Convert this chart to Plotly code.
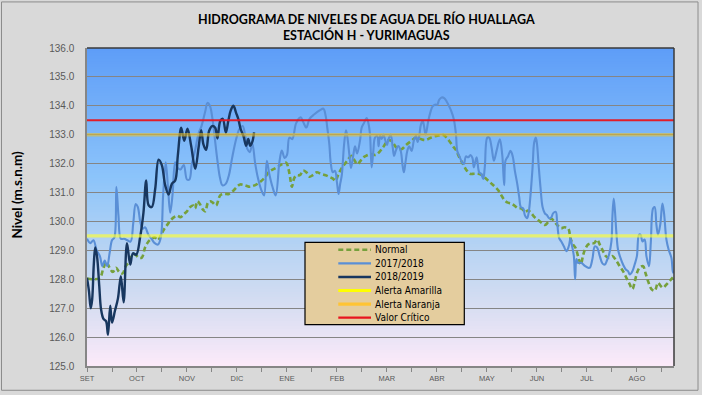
import plotly.graph_objects as go

# ---------------- data ----------------
month_labels = ["SET", "OCT", "NOV", "DIC", "ENE", "FEB", "MAR", "ABR", "MAY", "JUN", "JUL", "AGO"]
days_per_label = 31
n_days = 365

normal_day = [0, 4, 8, 10, 12, 14, 16, 18, 20, 22, 24, 26, 28, 30, 32, 34, 36, 38, 40, 42, 44, 46, 48, 50,
              52, 54, 56, 58, 60, 62, 64, 66, 67, 68.5, 70, 72, 73.3, 75, 76.4, 78, 80, 82.6, 85, 88, 90.5,
              93, 95, 98, 101, 104, 107, 110, 113, 117, 120, 123.5, 125, 126, 127, 128.5, 130, 132, 134,
              136, 138, 140, 142.5, 145, 148, 150, 152.5, 154, 156, 158, 160, 162, 164, 166, 167.5, 169,
              171, 173, 176, 179, 182, 184, 186.5, 188.5, 190, 192, 195, 198, 201, 204, 207, 210, 214,
              218, 221, 223, 225, 227, 229, 231, 233, 235, 237.5, 240, 242.6, 245, 247, 249, 251, 253,
              255, 257, 259, 261, 263, 265, 267.4, 269.5, 271.5, 273.5, 275.6, 277.5, 279.8, 282, 284,
              286, 288, 290, 292, 294, 296, 298.4, 299.8, 301.4, 303, 304.5, 306.2, 307.5, 308.7, 310.7,
              312.8, 314.5, 316.3, 318, 320, 321.7, 323.7, 326, 328.3, 330.4, 332.4, 334.5, 336.5, 338.2,
              339.6, 341.1, 342.7, 344.8, 346.4, 347.9, 350, 352, 354.1, 355.6, 357.2, 359.3, 361.3, 364]
normal_level = [128.03, 128.0, 128.05, 128.35, 128.6, 128.4, 128.25, 128.4, 128.25, 128.2, 128.45, 128.6,
                128.85, 128.85, 128.75, 128.75, 129.1, 129.3, 129.4, 129.45, 129.35, 129.55, 129.75, 129.9,
                130.05, 130.15, 130.2, 130.15, 130.25, 130.35, 130.5, 130.55, 130.45, 130.7, 130.6, 130.4,
                130.35, 130.65, 130.7, 130.65, 130.55, 130.9, 130.95, 130.95, 131.05, 131.2, 131.28, 131.25,
                131.2, 131.25, 131.35, 131.5, 131.72, 131.85, 131.95, 132.03, 131.8, 131.5, 131.2, 131.5,
                131.6, 131.6, 131.76, 131.7, 131.55, 131.6, 131.7, 131.65, 131.6, 131.55, 131.48, 131.4,
                131.65, 131.85, 132.0, 132.15, 132.27, 132.1, 131.98, 132.05, 132.2, 132.27, 132.33, 132.3,
                132.45, 132.6, 132.8, 132.8, 132.7, 132.55, 132.5, 132.65, 132.78, 132.9, 132.85, 132.82,
                132.92, 132.97, 132.99, 132.9, 132.76, 132.6, 132.45, 132.2, 132.0, 131.8, 131.65, 131.65,
                131.65, 131.6, 131.5, 131.4, 131.3, 131.2, 131.08, 130.9, 130.73, 130.65, 130.62, 130.55,
                130.45, 130.45, 130.33, 130.38, 130.28, 130.15, 130.05, 129.95, 129.88, 129.98, 130.1,
                129.98, 129.85, 129.77, 129.8, 129.76, 129.42, 129.2, 129.08, 128.8, 128.51, 128.8, 129.02,
                129.2, 129.25, 129.25, 129.37, 129.2, 128.97, 128.8, 128.74, 128.8, 128.63, 128.45, 128.28,
                128.05, 127.83, 127.66, 127.9, 128.23, 128.4, 128.45, 128.2, 127.94, 127.66, 127.6, 127.88,
                127.78, 127.71, 127.82, 127.94, 128.11]

y2017_day = [0, 2, 4, 6, 8, 9.5, 11, 12.5, 14, 15.5, 17, 18.2, 19.5, 21, 23, 25, 27, 28.7, 30.2, 31.5, 33,
             34.5, 36, 38, 40, 42, 44, 45.8, 47.2, 48.8, 50.2, 51.6, 53, 54.7, 56.2, 58, 60, 62, 63.5, 65,
             67, 69.2, 71, 73.3, 74.7, 76.2, 77.8, 79.5, 81, 82.5, 84, 86, 88, 90, 92.5, 94.5, 96.5, 98,
             99.5, 101, 102.5, 104.3, 106, 108, 109.8, 111.5, 113, 115, 117, 119.3, 120.8, 122.5, 124,
             125.5, 127.3, 129.7, 132.5, 134, 136, 138, 140.8, 144.5, 146.6, 148, 149.1, 150.3, 151.1,
             152.4, 153.8, 155, 156, 157, 158, 159.4, 160.6, 161.5, 162.7, 163.7, 165, 166.2, 167.5,
             169.3, 170.3, 171.8, 173.4, 174.5, 175.5, 176.5, 177.5, 178.6, 180, 180.8, 181.7, 182.7,
             183.7, 185, 186, 187, 188.3, 189.5, 190.4, 191.5, 193, 194.5, 195.7, 196.5, 197.5, 198.6,
             199.8, 201.3, 202.7, 204, 205, 206, 207.1, 208.2, 209, 210, 211.6, 213.1, 214.3, 215.8,
             217.2, 218.4, 219.9, 221.5, 223, 224.6, 226, 227.5, 228.8, 229.6, 231.2, 232.5, 233.7, 235,
             236.4, 237.8, 239, 239.9, 241.6, 243.2, 244.5, 245.7, 246.7, 248.2, 249.4, 250.9, 252.3,
             254, 256, 257.5, 258.7, 259.5, 261, 262.6, 264, 265.3, 266.8, 268, 269, 270.5, 271.5, 272.9,
             274, 275, 276.3, 277.3, 278.3, 279.1, 280, 281.2, 282.5, 283.9, 285.2, 286.6, 288, 289,
             290.7, 291.5, 292.8, 294.2, 295.7, 297.3, 298.8, 299.8, 300.8, 301.9, 302.7, 303.5, 304.5,
             306.5, 308.7, 310.7, 311.8, 313.4, 314.9, 316.3, 318, 319.6, 321.1, 322.4, 323.7, 325.2,
             325.8, 326.6, 327.4, 328.3, 329.3, 330.8, 332.4, 334.1, 335.5, 336.6, 338.2, 339.6, 341,
             342.3, 343.3, 344.4, 345.8, 346.9, 348.5, 349.6, 351, 352, 353.1, 354.1, 355.5, 356.8,
             357.8, 359.3, 360.7, 362.4, 363.4, 364]
y2017_level = [129.4, 129.25, 129.35, 129.0, 128.8, 128.45, 128.65, 128.45, 128.9, 129.35, 129.45, 131.2,
               130.2, 129.4, 129.4, 129.35, 129.3, 129.95, 130.6, 130.5, 130.0, 129.75, 129.8, 129.55,
               129.4, 129.25, 129.2, 129.45, 130.9, 132.05, 131.2, 130.3, 130.9, 132.05, 131.85, 131.8,
               131.95, 131.45, 131.45, 132.0, 132.45, 133.05, 133.3, 133.8, 134.1, 134.0, 133.55, 132.75,
               132.05, 131.5, 131.25, 131.3, 131.6, 132.2, 132.85, 133.2, 133.3, 133.0, 132.5, 132.4,
               132.7, 132.0, 131.5, 131.1, 130.9, 132.1, 131.65, 131.2, 130.9, 132.05, 132.45, 132.2,
               132.3, 132.9, 132.85, 133.4, 133.6, 133.45, 133.25, 133.55, 133.7, 133.85, 133.9, 133.65,
               133.2, 132.65, 132.05, 131.7, 131.75, 131.35, 130.95, 131.3, 131.6, 132.65, 133.15, 132.9,
               132.3, 131.85, 132.25, 132.6, 132.35, 132.8, 133.24, 133.41, 133.58, 133.4, 133.0, 131.87,
               132.4, 132.9, 132.95, 132.6, 132.96, 132.85, 133.01, 132.8, 132.65, 132.85, 133.01, 132.6,
               132.27, 132.45, 132.61, 132.45, 131.93, 131.7, 132.05, 132.44, 132.6, 132.44, 132.8,
               132.96, 132.75, 132.95, 133.36, 133.47, 133.3, 133.0, 133.47, 133.81, 133.98, 134.04,
               134.04, 134.21, 134.29, 134.27, 134.15, 133.98, 133.8, 133.53, 133.01, 132.44, 132.22,
               132.05, 131.99, 132.25, 132.22, 132.3, 132.2, 131.87, 132.22, 131.7, 131.65, 131.47, 131.9,
               132.9, 132.9, 132.56, 132.1, 132.45, 132.84, 132.3, 131.25, 132.1, 132.25, 132.44, 132.25,
               131.76, 131.3, 130.85, 130.5, 130.45, 130.22, 130.11, 130.35, 130.9, 131.87, 132.73, 132.9,
               132.65, 131.99, 131.19, 130.5, 130.28, 130.22, 130.11, 130.15, 130.28, 130.33, 130.0,
               129.42, 129.3, 129.14, 128.97, 129.15, 129.42, 129.15, 128.8, 128.0, 128.7, 128.57, 128.57,
               128.46, 128.4, 128.4, 128.7, 129.14, 129.1, 128.8, 128.55, 128.51, 128.65, 128.85, 129.31,
               130.16, 130.79, 130.35, 129.59, 129.02, 128.74, 128.51, 128.34, 128.28, 128.17, 128.28,
               128.51, 128.8, 129.54, 129.54, 129.31, 129.37, 128.8, 128.45, 129.25, 130.45, 130.5,
               129.88, 129.54, 129.9, 130.62, 130.3, 129.37, 129.02, 128.74, 128.23, 128.3]

y2018_day = [0, 1.2, 2.3, 3.2, 4.2, 5.1, 6.2, 7.6, 8.7, 10.2, 11.8, 13, 14.4, 15.5, 17.3, 19.2, 21, 22.7,
             24.8, 26.8, 28.5, 30.5, 33, 35, 36.7, 38.2, 40.2, 42.3, 44.4, 46.4, 48.5, 50.6, 52.6, 54.7,
             56.3, 58.4, 60.3, 62.3, 64.6, 67.1, 69.2, 70.8, 72.2, 73.9, 75.7, 77.6, 79.5, 80.9, 82.6,
             84.2, 86.1, 87.7, 89.2, 90.8, 92.5, 93.9, 95.3, 97, 98.7, 100, 101.2, 102.5, 103.6]
y2018_level = [128.05, 127.6, 127.0, 127.3, 128.5, 129.1, 128.8, 127.77, 126.97, 126.63, 126.55, 126.08,
               127.09, 126.5, 126.9, 127.34, 128.11, 127.2, 129.25, 128.51, 128.9, 128.85, 129.48, 130.3,
               131.42, 130.56, 130.5, 131.13, 132.14, 131.95, 131.25, 130.93, 131.3, 131.42, 132.27,
               133.24, 132.79, 133.21, 132.61, 131.82, 132.56, 133.16, 132.67, 132.48, 133.13, 133.3,
               133.24, 132.87, 133.47, 133.55, 133.07, 133.5, 133.85, 134.0, 133.75, 133.53, 133.19,
               132.96, 132.62, 132.85, 132.62, 132.75, 133.08]

alerta_amarilla = 129.5
alerta_naranja = 133.0
valor_critico = 133.5

series_names = ["Normal", "2017/2018", "2018/2019", "Alerta Amarilla", "Alerta Naranja", "Valor Crítico"]

# ---------------- styles ----------------
C_NORMAL = "#76A03C"
C_2017 = "#5A8FD6"
C_2018 = "#18375F"
C_AMAR = "rgba(255,255,50,0.66)"
C_NAR = "rgba(235,192,40,0.56)"
C_CRIT = "rgba(232,20,30,0.95)"

styles = [
    dict(color=C_NORMAL, width=2.6, dash="5px,3px"),
    dict(color=C_2017, width=2.1),
    dict(color=C_2018, width=2.4),
    dict(color=C_AMAR, width=3.2),
    dict(color=C_NAR, width=3.4),
    dict(color=C_CRIT, width=2.2),
]

W, H = 702, 395
PL, PR, PT, PB = 87, 674, 48, 369
YMIN, YMAX = 125, 136
XMAX = n_days - 1


def xp(px):
    return (px - PL) / (PR - PL)


def yp(py):
    return (PB - py) / (PB - PT)


fig = go.Figure()

full_x = [0, XMAX]
fig.add_trace(go.Scatter(x=normal_day, y=normal_level, mode="lines", name=series_names[0],
                         line=styles[0], line_shape="spline", hoverinfo="skip"))
fig.add_trace(go.Scatter(x=y2017_day, y=y2017_level, mode="lines", name=series_names[1],
                         line=styles[1], line_shape="spline", hoverinfo="skip"))
fig.add_trace(go.Scatter(x=y2018_day, y=y2018_level, mode="lines", name=series_names[2],
                         line=styles[2], line_shape="spline", hoverinfo="skip"))
for nm, val, st in zip(series_names[3:], [alerta_amarilla, alerta_naranja, valor_critico], styles[3:]):
    fig.add_trace(go.Scatter(x=full_x, y=[val, val], mode="lines", name=nm, line=st, hoverinfo="skip"))

# ---------------- background gradient ----------------
stops = [(136.0, (94, 157, 248)), (131.5, (140, 196, 250)), (129.0, (184, 212, 243)),
         (127.0, (216, 222, 242)), (125.0, (252, 234, 249))]


def grad_color(v):
    for (v0, c0), (v1, c1) in zip(stops[:-1], stops[1:]):
        if v1 <= v <= v0:
            t = (v0 - v) / (v0 - v1)
            return "rgb(%d,%d,%d)" % tuple(round(a + (b - a) * t) for a, b in zip(c0, c1))
    return "rgb(%d,%d,%d)" % stops[-1][1]


shapes = []
nb = 120
step = (YMAX - YMIN) / nb
for i in range(nb):
    y0 = YMIN + i * step
    # each band reaches the top so that no seams appear between bands
    shapes.append(dict(type="rect", xref="paper", yref="y", x0=0, x1=1, y0=y0, y1=YMAX,
                       fillcolor=grad_color(y0 + step / 2), line=dict(width=0), layer="below"))

# outer chart border
shapes.append(dict(type="rect", xref="paper", yref="paper", x0=xp(1.5), x1=xp(698), y0=yp(393.5), y1=yp(1.5),
                   line=dict(color="#8C8C8C", width=1), fillcolor="rgba(0,0,0,0)", layer="below"))
# plot-area top and right border (dark)
shapes.append(dict(type="line", xref="paper", yref="paper", x0=0, x1=1, y0=1, y1=1,
                   line=dict(color="#3A3A3A", width=1.5), layer="above"))
shapes.append(dict(type="line", xref="paper", yref="paper", x0=1, x1=1, y0=0, y1=1,
                   line=dict(color="#3A3A3A", width=1.5), layer="above"))

# manual legend box
LX0, LX1, LY0, LY1 = 305, 464.3, 244.3, 327.3
shapes.append(dict(type="rect", xref="paper", yref="paper", x0=xp(LX0), x1=xp(LX1), y0=yp(LY1), y1=yp(LY0),
                   fillcolor="#E4CD9E", line=dict(color="#000000", width=1.2), layer="above"))
annotations = []
legend_colors_solid = [C_NORMAL, C_2017, C_2018, "#FFFF00", "#FFC433", "#E8141E"]
for i, nm in enumerate(series_names):
    cy = 251.7 + i * 13.7
    st = dict(styles[i])
    st["color"] = legend_colors_solid[i]
    shapes.append(dict(type="line", xref="paper", yref="paper", x0=xp(338.3), x1=xp(371), y0=yp(cy), y1=yp(cy),
                       line=st, layer="above"))
    annotations.append(dict(text=nm, xref="paper", yref="paper", x=xp(372.5), y=yp(cy), xanchor="left",
                            yanchor="middle", showarrow=False,
                            font=dict(family="Liberation Sans Narrow, DejaVu Sans Condensed, Liberation Sans",
                                      size=10, color="#000000")))

# title
annotations.append(dict(text="<b>HIDROGRAMA DE NIVELES DE AGUA DEL RÍO HUALLAGA<br>ESTACIÓN H - YURIMAGUAS</b>",
                        xref="paper", yref="paper", x=xp(366), y=yp(26.5), xanchor="center", yanchor="middle",
                        showarrow=False, align="center",
                        font=dict(family="Lato, Noto Sans, sans-serif", size=12.5, color="#000000")))
# y axis title
annotations.append(dict(text="<b>Nivel (m.s.n.m)</b>", xref="paper", yref="paper", x=xp(17), y=yp(196),
                        xanchor="center", yanchor="middle", textangle=-90, showarrow=False,
                        font=dict(family="Lato, Noto Sans, sans-serif", size=13.5, color="#000000")))

fig.update_layout(
    width=W, height=H,
    margin=dict(l=PL, r=W - PR, t=PT, b=H - PB, pad=0),
    paper_bgcolor="#D9D9D9",
    plot_bgcolor="rgb(160,200,245)",
    showlegend=False,
    shapes=shapes,
    annotations=annotations,
    xaxis=dict(
        range=[0, XMAX],
        tickmode="array",
        tickvals=[i * days_per_label for i in range(len(month_labels))],
        ticktext=month_labels,
        ticks="outside", ticklen=4, tickcolor="#868686", tickwidth=1,
        minor=dict(tick0=days_per_label / 2, dtick=days_per_label, ticks="outside", ticklen=4,
                   tickcolor="#868686", showgrid=False),
        showgrid=False, zeroline=False,
        showline=True, linecolor="#868686", linewidth=1.5,
        tickfont=dict(family="Liberation Sans, Arial, sans-serif", size=7.5, color="#595959"),
    ),
    yaxis=dict(
        range=[YMIN, YMAX],
        dtick=1, tick0=125, tickformat=".1f",
        showgrid=True, gridcolor="#858585", gridwidth=1.2,
        zeroline=False, ticks="",
        showline=True, linecolor="#868686", linewidth=1.5,
        ticklabelstandoff=9,
        tickfont=dict(family="Liberation Sans, Arial, sans-serif", size=10, color="#595959"),
    ),
)

fig.write_html("out.html", config={"displayModeBar": False},
               post_script="document.body.style.margin='0';document.body.style.overflow='hidden';")
